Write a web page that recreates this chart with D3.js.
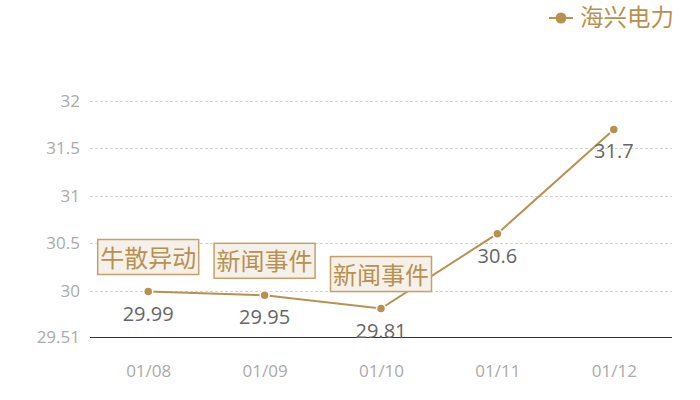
<!DOCTYPE html>
<html>
<head>
<meta charset="utf-8">
<script src="https://cdn.jsdelivr.net/npm/d3@7"></script>
<style>
  body { margin: 0; background: #fff; }
  text { font-family: "Open Sans", "Noto Sans CJK SC", sans-serif; }
</style>
</head>
<body>
<div class="chart"></div>
<script>
var dates = ["01/08", "01/09", "01/10", "01/11", "01/12"];
var prices = [29.99, 29.95, 29.81, 30.6, 31.7];
var notes = ["牛散异动", "新闻事件", "新闻事件", null, null];
var yTicks = [29.51, 30, 30.5, 31, 31.5, 32];
var seriesName = "海兴电力";

var width = 700,
    height = 400,
    margin = {top: 101, right: 28, bottom: 63, left: 90};

var gold = "#b8914f";

var svg = d3.select(".chart").append("svg")
    .attr("width", width)
    .attr("height", height);

var x = d3.scalePoint()
    .domain(dates)
    .range([margin.left, width - margin.right])
    .padding(0.5);

var y = d3.scaleLinear()
    .domain([29.51, 32])
    .range([height - margin.bottom, margin.top]);

// grid
svg.append("g")
    .selectAll("line")
    .data(yTicks.slice(1))
    .enter().append("line")
    .attr("x1", margin.left)
    .attr("x2", width - margin.right)
    .attr("y1", function (d) { return Math.round(y(d)) + 0.5; })
    .attr("y2", function (d) { return Math.round(y(d)) + 0.5; })
    .attr("stroke", "#d4d4d4")
    .attr("stroke-dasharray", "3,2");

// y axis labels
var yAxis = d3.axisLeft(y)
    .tickValues(yTicks)
    .tickSize(0)
    .tickPadding(10)
    .tickFormat(function (d) { return d; });

svg.append("g")
    .attr("transform", "translate(" + margin.left + ",0)")
    .call(yAxis)
    .call(function (g) { g.select(".domain").remove(); })
    .selectAll("text")
    .attr("fill", "#aaa")
    .style("font-size", "17px");

// x axis
var xAxis = d3.axisBottom(x)
    .tickSize(0)
    .tickPadding(27);

var xg = svg.append("g")
    .attr("transform", "translate(0," + (Math.round(y(29.51)) + 0.5) + ")")
    .call(xAxis);
xg.select(".domain")
    .attr("d", "M" + margin.left + ",0H" + (width - margin.right))
    .attr("stroke", "#333");
xg.selectAll("text")
    .attr("fill", "#aaa")
    .style("font-size", "17px");

// line
var line = d3.line()
    .x(function (d, i) { return x(dates[i]); })
    .y(function (d) { return y(d); });

svg.append("path")
    .datum(prices)
    .attr("d", line)
    .attr("fill", "none")
    .attr("stroke", gold)
    .attr("stroke-width", 2);

svg.append("g")
    .selectAll("circle")
    .data(prices)
    .enter().append("circle")
    .attr("cx", function (d, i) { return x(dates[i]); })
    .attr("cy", function (d) { return y(d); })
    .attr("r", 4.5)
    .attr("fill", gold)
    .attr("stroke", "#fff")
    .attr("stroke-width", 1.5);

// value labels
svg.append("g")
    .selectAll("text")
    .data(prices)
    .enter().append("text")
    .attr("x", function (d, i) { return x(dates[i]); })
    .attr("y", function (d) { return y(d) + 29; })
    .attr("text-anchor", "middle")
    .attr("fill", "#666")
    .style("font-size", "20px")
    .text(function (d) { return d; });

// annotation boxes
var noteData = prices.map(function (d, i) {
    return {date: dates[i], value: d, note: notes[i]};
}).filter(function (d) { return d.note; });

var ng = svg.append("g")
    .selectAll("g")
    .data(noteData)
    .enter().append("g")
    .attr("transform", function (d) {
        return "translate(" + x(d.date) + "," + (y(d.value) - 17) + ")";
    });

ng.append("rect")
    .attr("x", -50.5)
    .attr("y", -35)
    .attr("width", 101)
    .attr("height", 35)
    .attr("fill", "#f5f0ea")
    .attr("stroke", "#c4a16b")
    .attr("stroke-width", 1.5);

ng.append("text")
    .attr("x", 0)
    .attr("y", -8)
    .attr("text-anchor", "middle")
    .attr("fill", gold)
    .style("font-size", "24px")
    .text(function (d) { return d.note; });

// legend
var lg = svg.append("g")
    .attr("transform", "translate(549,18)");
lg.append("line")
    .attr("x1", 0).attr("x2", 24)
    .attr("stroke", gold).attr("stroke-width", 2);
lg.append("circle")
    .attr("cx", 12).attr("r", 5.5)
    .attr("fill", gold);
lg.append("text")
    .attr("x", 31)
    .attr("y", 8)
    .attr("fill", gold)
    .style("font-size", "23.5px")
    .text(seriesName);
</script>
</body>
</html>
